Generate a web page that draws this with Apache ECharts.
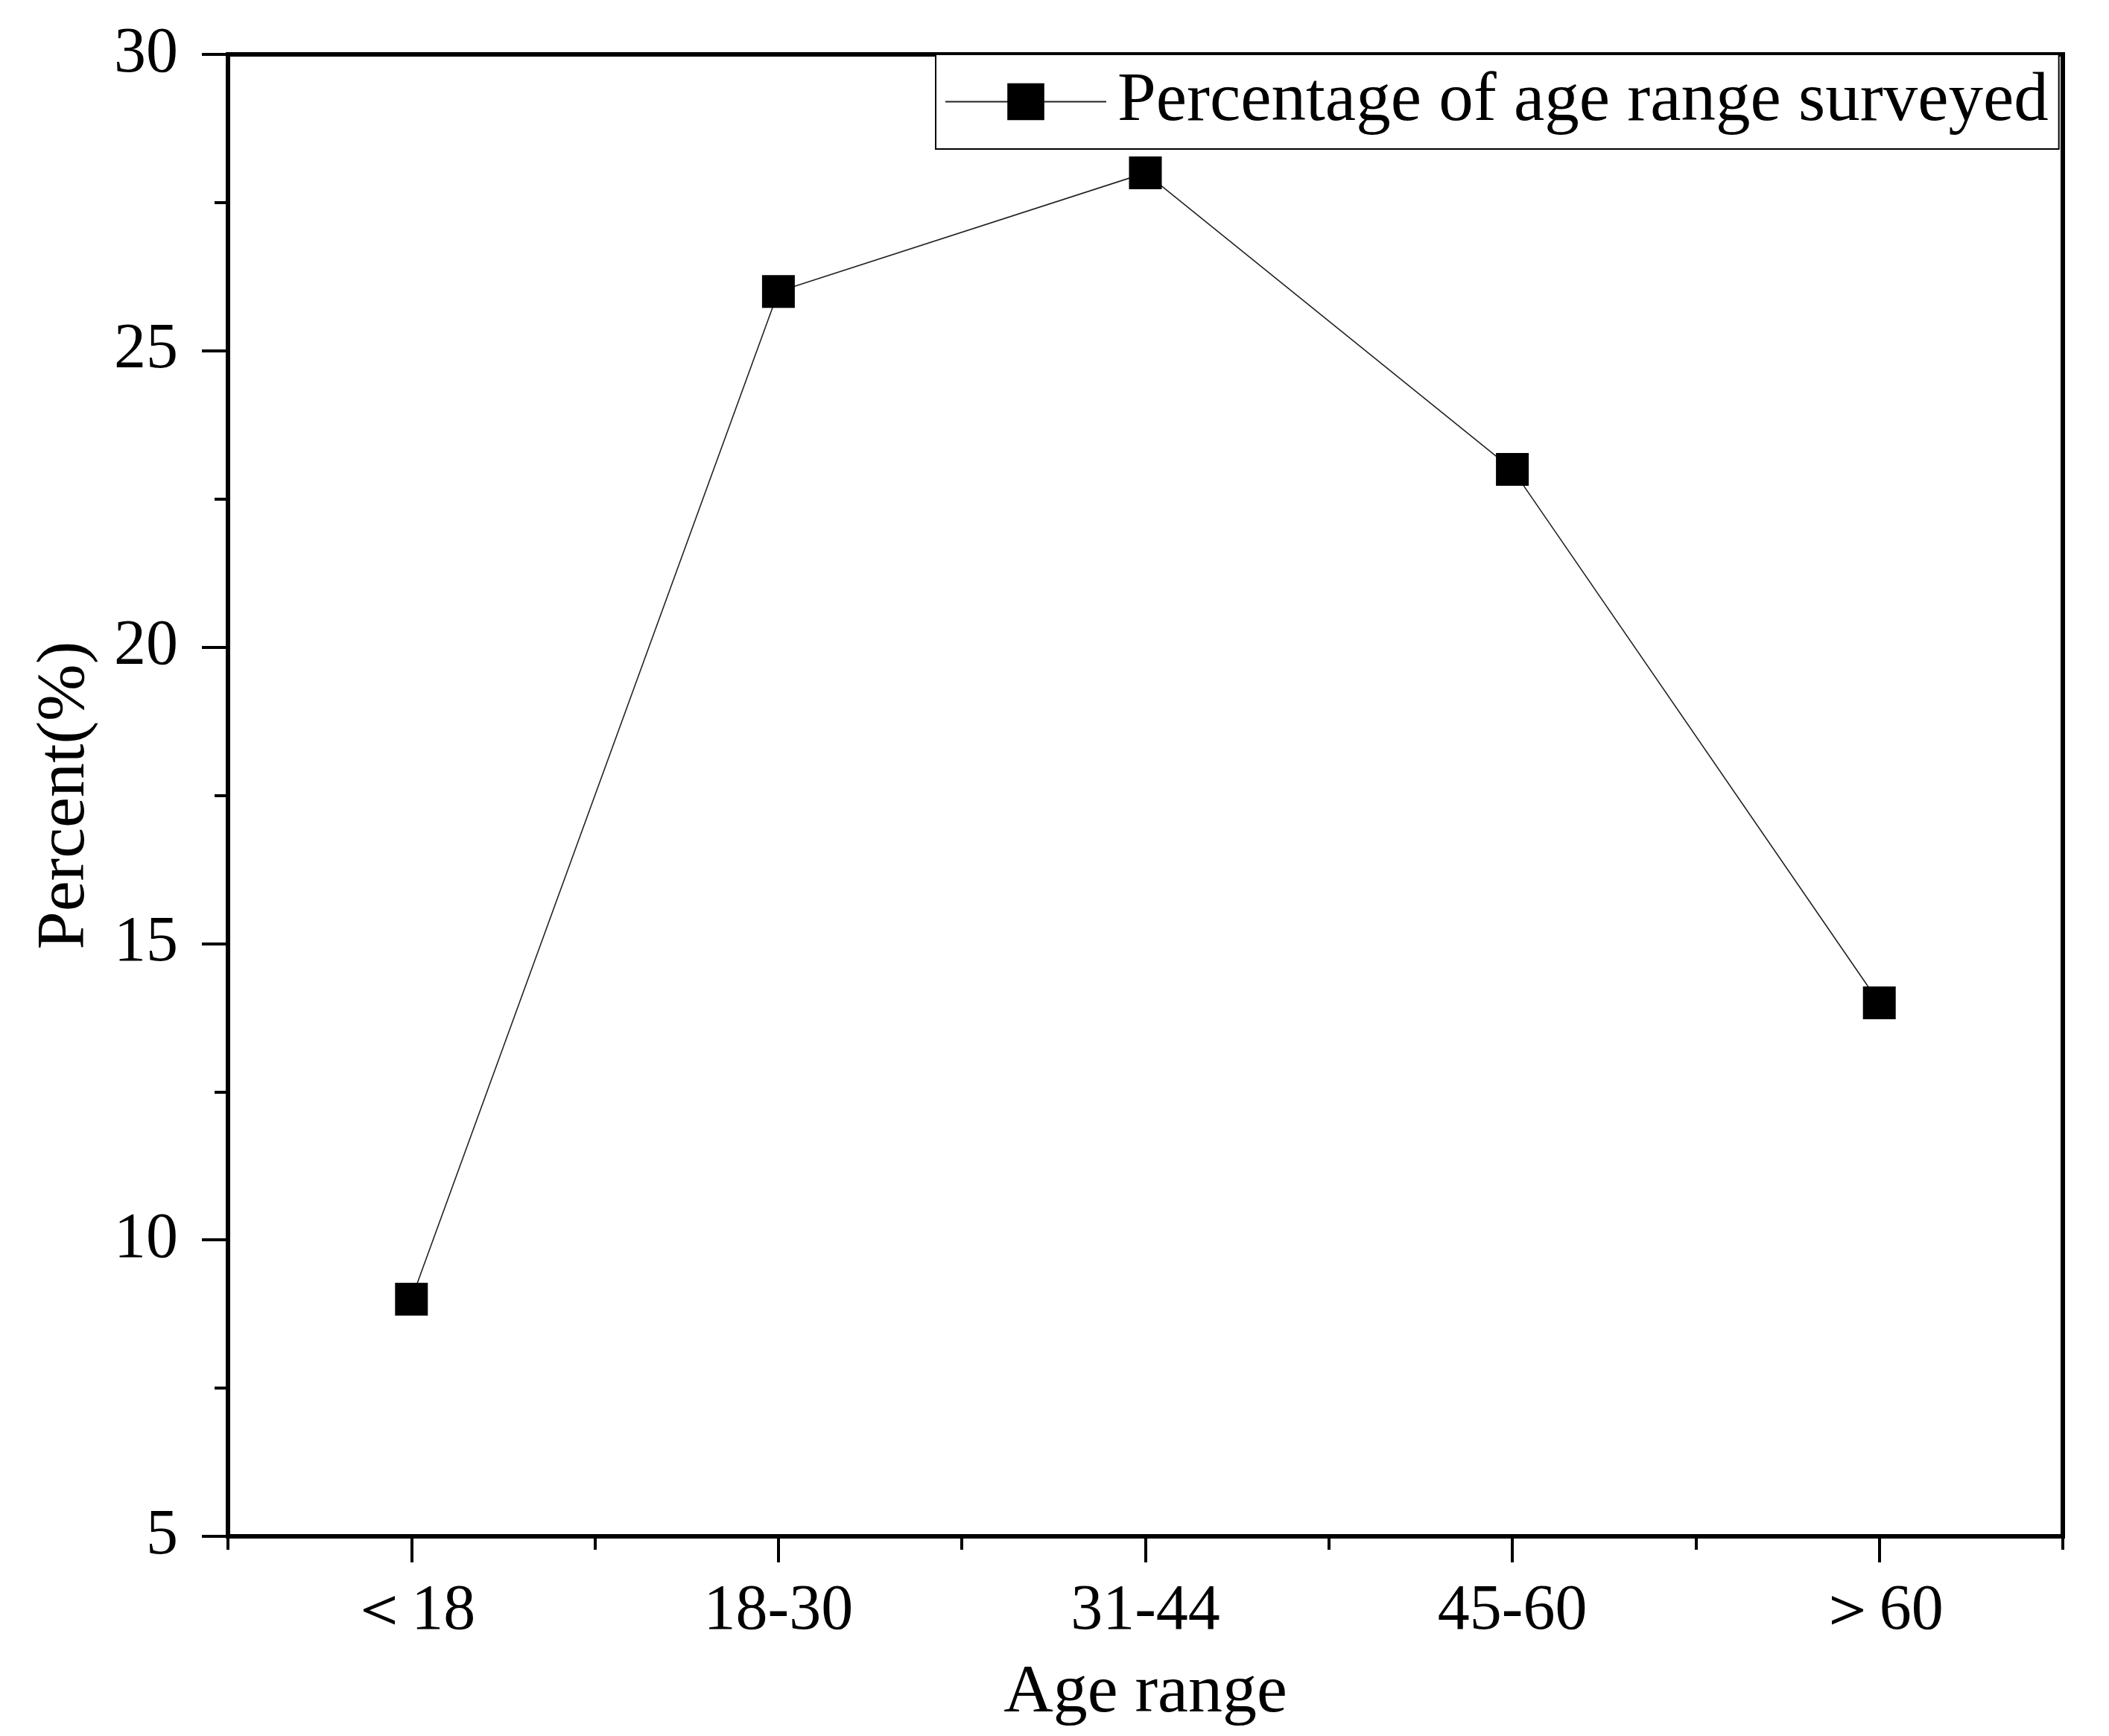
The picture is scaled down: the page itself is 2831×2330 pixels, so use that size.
<!DOCTYPE html>
<html>
<head>
<meta charset="utf-8">
<script src="https://cdn.jsdelivr.net/npm/echarts@6/dist/echarts.min.js"></script>
<style>html,body{margin:0;padding:0;background:#fff;}#c{width:2831px;height:2330px;}</style>
</head>
<body>
<div id="c"></div>
<script>
const categories = ['＜18', '18-30', '31-44', '45-60', '＞60'];
const percentValues = [9, 26, 28, 23, 14];
const seriesName = 'Percentage of age range surveyed';
const yTicks = { min: 5, max: 30, interval: 5 };

const font = 'Liberation Serif, Times New Roman, serif';
const chart = echarts.init(document.getElementById('c'));
chart.setOption({
  backgroundColor: '#fff',
  animation: false,
  grid: { left: 306, right: 62, top: 73, bottom: 268, show: true, borderColor: '#000', borderWidth: 6, backgroundColor: 'transparent' },
  legend: {
    data: [seriesName],
    left: 1256, top: 73,
    padding: [17, 14, 17, 12],
    itemWidth: 216, itemHeight: 62, itemGap: 10,
    borderColor: '#000', borderWidth: 2,
    backgroundColor: '#fff',
    textStyle: { fontFamily: font, fontSize: 93, color: '#000', padding: [0, 0, 0, 10] }
  },
  xAxis: [{
    type: 'category', data: categories, boundaryGap: true,
    name: 'Age range', nameLocation: 'middle', nameGap: 165,
    nameTextStyle: { fontFamily: font, fontSize: 92, color: '#000' },
    axisLine: { show: true, lineStyle: { color: '#000', width: 6 } },
    axisTick: { show: true, alignWithLabel: true, length: 35, lineStyle: { color: '#000', width: 4 } },
    axisLabel: { fontFamily: font, fontSize: 86, color: '#000', margin: 58 },
    splitLine: { show: false }
  }, {
    type: 'category', data: categories, boundaryGap: true, position: 'bottom',
    axisLine: { show: false },
    axisTick: { show: true, length: 18, lineStyle: { color: '#000', width: 4 } },
    axisLabel: { show: false },
    splitLine: { show: false }
  }],
  yAxis: {
    type: 'value', min: yTicks.min, max: yTicks.max, interval: yTicks.interval,
    name: 'Percent(%)', nameLocation: 'middle', nameGap: 172,
    nameTextStyle: { fontFamily: font, fontSize: 92, color: '#000' },
    axisLine: { show: true, lineStyle: { color: '#000', width: 6 } },
    axisTick: { show: true, length: 35, lineStyle: { color: '#000', width: 4 } },
    minorTick: { show: true, splitNumber: 2, length: 18, lineStyle: { color: '#000', width: 4 } },
    axisLabel: { fontFamily: font, fontSize: 86, color: '#000', margin: 67 },
    splitLine: { show: false }
  },
  series: [{
    name: seriesName, type: 'line', data: percentValues, xAxisIndex: 0,
    symbol: 'rect', symbolSize: 44,
    lineStyle: { color: '#222', width: 1.6 },
    itemStyle: { color: '#000' }
  }]
});
</script>
</body>
</html>
